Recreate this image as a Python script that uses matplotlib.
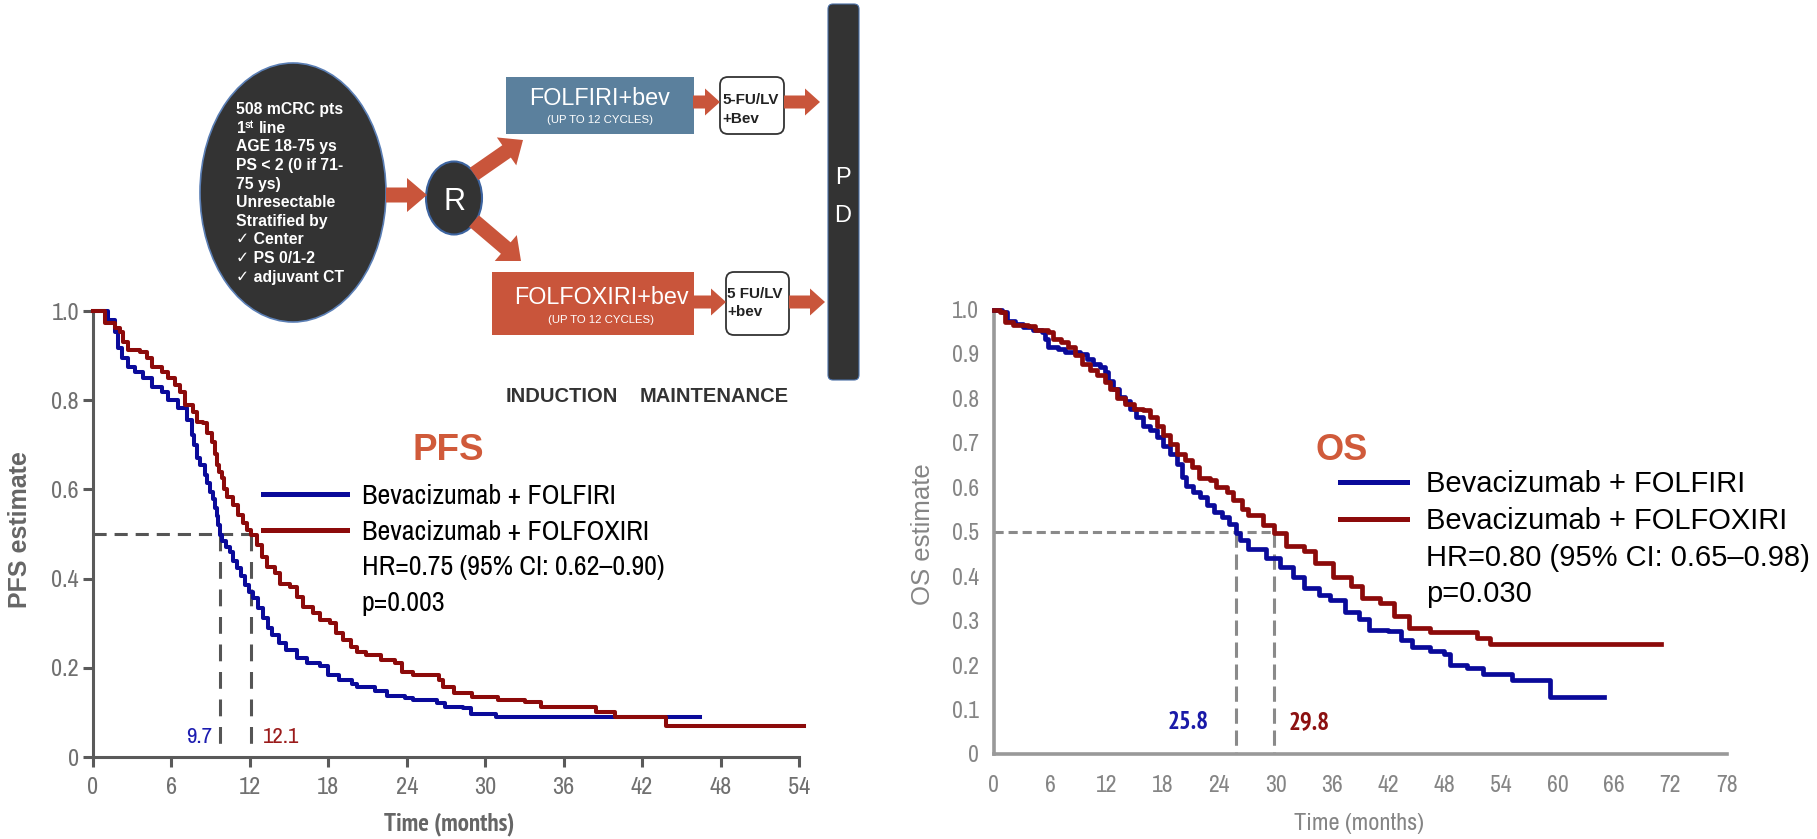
import matplotlib
matplotlib.use('Agg')
import matplotlib.pyplot as plt
from matplotlib.patches import Ellipse, Rectangle, FancyBboxPatch, FancyArrow
from matplotlib.lines import Line2D
from matplotlib.font_manager import FontProperties

NARROW = ['Archivo Narrow', 'Liberation Sans', 'DejaVu Sans']
NARROW_B = ['PT Sans Narrow', 'Barlow Semi Condensed', 'Liberation Sans', 'DejaVu Sans']
REG = ['Liberation Sans', 'DejaVu Sans']
plt.rcParams['font.family'] = REG

BLUE = '#0a0a9a'
RED = '#8c0a0a'
ORANGE = '#c9553b'

# ---- data ----
series_names = ['Bevacizumab + FOLFIRI', 'Bevacizumab + FOLFOXIRI']

# PFS, FOLFIRI arm
pfs_t1 = [0, 1.17, 1.68, 1.94, 2.19, 2.70, 3.21, 3.85, 4.49, 5.25,
          5.76, 6.53, 7.17, 7.55, 7.75, 7.93, 8.2, 8.57, 8.75, 8.95,
          9.15, 9.33, 9.45, 9.59, 9.7, 9.9, 10.2, 10.48, 10.7, 10.99,
          11.3, 11.63, 11.95, 12.27, 12.6, 13.03, 13.35, 13.7, 14.2, 14.76,
          15.57, 16.4, 17.39, 18.0, 18.8, 19.8, 20.2, 21.6, 22.5, 23.9,
          24.5, 26.3, 26.9, 28.3, 28.9, 30.8, 46.4]
pfs_s1 = [1.0, 0.98, 0.954, 0.916, 0.894, 0.875, 0.864, 0.849, 0.830, 0.818,
          0.80, 0.782, 0.756, 0.722, 0.70, 0.670, 0.655, 0.632, 0.615, 0.595,
          0.578, 0.558, 0.54, 0.52, 0.497, 0.485, 0.47, 0.46, 0.44, 0.423,
          0.405, 0.386, 0.37, 0.356, 0.335, 0.311, 0.29, 0.274, 0.255, 0.239,
          0.223, 0.211, 0.203, 0.183, 0.172, 0.164, 0.156, 0.148, 0.136, 0.132,
          0.128, 0.121, 0.113, 0.109, 0.097, 0.089, 0.089]

# PFS, FOLFOXIRI arm
pfs_t2 = [0, 0.92, 1.68, 2.07, 2.32, 2.70, 3.60, 4.11, 4.49, 5.26,
          5.76, 6.27, 6.66, 7.04, 7.68, 7.93, 8.44, 8.70, 9.08, 9.3,
          9.46, 9.65, 9.85, 10.05, 10.23, 10.74, 11.12, 11.5, 11.8, 12.1,
          12.52, 12.9, 13.3, 13.9, 14.3, 15.07, 15.6, 16.1, 16.86, 17.4,
          18.1, 18.6, 19.15, 19.7, 20.2, 20.9, 22.0, 23.1, 23.6, 24.5,
          26.5, 26.8, 27.6, 29.0, 31.0, 33.05, 34.3, 38.5, 39.9, 43.8, 54.4]
pfs_s2 = [1.0, 0.972, 0.961, 0.954, 0.931, 0.913, 0.909, 0.894, 0.875, 0.864,
          0.849, 0.834, 0.819, 0.789, 0.774, 0.752, 0.748, 0.726, 0.707, 0.68,
          0.655, 0.64, 0.625, 0.60, 0.584, 0.565, 0.543, 0.524, 0.51, 0.497,
          0.475, 0.449, 0.427, 0.412, 0.389, 0.382, 0.359, 0.337, 0.322, 0.307,
          0.30, 0.277, 0.262, 0.247, 0.236, 0.229, 0.217, 0.210, 0.191, 0.184,
          0.173, 0.158, 0.143, 0.134, 0.128, 0.123, 0.113, 0.102, 0.089, 0.070, 0.070]

# OS, FOLFIRI arm
os_t1 = [0, 0.86, 1.4, 2.3, 3.16, 4.2, 5.1, 5.5, 5.8, 6.9,
         7.6, 9.2, 9.9, 10.6, 11.3, 11.85, 12.2, 12.7, 13.3, 14.0,
         14.5, 15.2, 15.9, 16.6, 17.35, 18.05, 18.8, 19.5, 20.0, 20.5,
         21.2, 21.96, 22.7, 23.4, 24.3, 25.0, 25.8, 26.2, 27.1, 29.0,
         30.5, 31.8, 33.0, 34.6, 35.8, 37.4, 38.9, 39.9, 42.0, 43.3,
         44.5, 46.4, 47.9, 48.5, 50.4, 52.1, 55.1, 59.2, 64.9]
os_s1 = [1.0, 0.994, 0.975, 0.968, 0.960, 0.954, 0.949, 0.934, 0.915, 0.912,
         0.904, 0.90, 0.889, 0.878, 0.870, 0.859, 0.840, 0.822, 0.803, 0.795,
         0.777, 0.758, 0.739, 0.728, 0.713, 0.694, 0.676, 0.653, 0.623, 0.604,
         0.589, 0.578, 0.560, 0.544, 0.533, 0.518, 0.497, 0.481, 0.461, 0.441,
         0.421, 0.398, 0.374, 0.358, 0.346, 0.319, 0.303, 0.280, 0.276, 0.256,
         0.240, 0.232, 0.224, 0.200, 0.193, 0.181, 0.166, 0.128, 0.128]

# OS, FOLFOXIRI arm
os_t2 = [0, 0.68, 1.2, 2.1, 3.7, 4.4, 5.8, 6.35, 7.2, 7.95,
         8.7, 9.4, 10.3, 11.0, 11.85, 12.4, 13.1, 14.0, 14.9, 15.9,
         16.6, 17.35, 18.05, 18.8, 19.5, 20.4, 21.1, 21.8, 23.0, 23.7,
         24.8, 25.5, 26.4, 27.1, 28.7, 29.8, 31.1, 33.0, 34.2, 36.1,
         38.0, 39.2, 41.1, 42.6, 44.2, 46.4, 51.4, 52.8, 71.0]
os_s2 = [1.0, 0.994, 0.971, 0.966, 0.962, 0.953, 0.949, 0.934, 0.927, 0.915,
         0.897, 0.878, 0.863, 0.852, 0.837, 0.822, 0.800, 0.788, 0.777, 0.773,
         0.758, 0.739, 0.717, 0.698, 0.676, 0.661, 0.646, 0.620, 0.616, 0.601,
         0.589, 0.571, 0.552, 0.537, 0.516, 0.497, 0.469, 0.457, 0.429, 0.398,
         0.378, 0.350, 0.339, 0.311, 0.283, 0.275, 0.260, 0.247, 0.247]

pfs_medians = [9.7, 12.1]
os_medians = [25.8, 29.8]
pfs_stats = ['HR=0.75 (95% CI: 0.62\u20130.90)', 'p=0.003']
os_stats = ['HR=0.80 (95% CI: 0.65\u20130.98)', 'p=0.030']

pfs_xticks = [0, 6, 12, 18, 24, 30, 36, 42, 48, 54]
pfs_yticks = [0, 0.2, 0.4, 0.6, 0.8, 1.0]
pfs_ylabels = ['0', '0.2', '0.4', '0.6', '0.8', '1.0']
os_xticks = [0, 6, 12, 18, 24, 30, 36, 42, 48, 54, 60, 66, 72, 78]
os_yticks = [0, 0.1, 0.2, 0.3, 0.4, 0.5, 0.6, 0.7, 0.8, 0.9, 1.0]
os_ylabels = ['0', '0.1', '0.2', '0.3', '0.4', '0.5', '0.6', '0.7', '0.8', '0.9', '1.0']

ellipse_lines = ['508 mCRC pts', None, 'AGE 18-75 ys', 'PS < 2 (0 if 71-', '75 ys)',
                 'Unresectable', 'Stratified by', '\u2713 Center', '\u2713 PS 0/1-2',
                 '\u2713 adjuvant CT']

W, H = 1817, 839
fig = plt.figure(figsize=(W / 100, H / 100), dpi=100)
fig.patch.set_facecolor('white')


def px_rect(l, t, r, b):
    return [l / W, 1 - b / H, (r - l) / W, (b - t) / H]


def median_lines(ax, meds, color, hdash, vdash, lw, bottom):
    ax.plot([0, max(meds)], [0.5, 0.5], color=color, lw=lw, ls=(0, hdash), zorder=2)
    for m in meds:
        ax.plot([m, m], [0.5, bottom], color=color, lw=lw, ls=(0, vdash), zorder=2)


# ---------------- PFS panel ----------------
ax = fig.add_axes(px_rect(93, 311, 799, 757))
ax.step(pfs_t1, pfs_s1, where='post', color=BLUE, lw=2.9, clip_on=False, zorder=3)
ax.step(pfs_t2, pfs_s2, where='post', color=RED, lw=2.9, clip_on=False, zorder=3)
median_lines(ax, pfs_medians, '#555555', (4.3, 2.6), (5.5, 3.5), 2.2, 0.022)
ax.set_xlim(0, 54)
ax.set_ylim(0, 1)
for s in ['top', 'right']:
    ax.spines[s].set_visible(False)
for s in ['left', 'bottom']:
    ax.spines[s].set_color('#5a5a5a')
    ax.spines[s].set_linewidth(2.2)
ax.set_xticks(pfs_xticks)
ax.set_yticks(pfs_yticks)
ax.set_yticklabels(pfs_ylabels)
ax.tick_params(axis='both', length=7.5, width=2.2, color='#5a5a5a', labelcolor='#707070',
               labelsize=17.5)
ax.tick_params(axis='x', pad=7)
ax.tick_params(axis='y', pad=2.5)
for lab in ax.get_xticklabels() + ax.get_yticklabels():
    lab.set_fontfamily(NARROW)
ax.set_ylabel('PFS estimate', fontsize=18, fontweight='bold', color='#666666', va='center')
ax.yaxis.set_label_coords(-0.1034, 0.509)
ax.set_xlabel('Time (months)', fontsize=18, fontweight='bold', color='#666666',
              va='center', family=NARROW_B)
ax.xaxis.set_label_coords(0.504, -0.150)
ax.text(27.2, 0.666, 'PFS', color='#d05a3a', fontsize=26.5, fontweight='bold',
        ha='center', va='baseline')
ax.text(pfs_medians[0] - 0.6, 0.044, f'{pfs_medians[0]}', color='#1c1cb0', fontsize=16.5,
        family=NARROW, ha='right', va='center')
ax.text(pfs_medians[1] + 0.9, 0.044, f'{pfs_medians[1]}', color='#9a1a1a', fontsize=16.5,
        family=NARROW, ha='left', va='center')
handles = [Line2D([], [], color=BLUE, lw=3.6), Line2D([], [], color=RED, lw=3.6),
           Line2D([], [], alpha=0), Line2D([], [], alpha=0)]
ax.legend(handles, series_names + pfs_stats, loc='upper left',
          bbox_to_anchor=(263 / W, 1 - 484 / H), bbox_transform=fig.transFigure,
          frameon=False, prop=FontProperties(family=NARROW, size=20.2),
          handlelength=3.0, handletextpad=0.52, labelspacing=0.38,
          borderpad=0, borderaxespad=0)

# ---------------- OS panel ----------------
ax2 = fig.add_axes(px_rect(993.6, 309.5, 1726.8, 754))
ax2.step(os_t1, os_s1, where='post', color=BLUE, lw=3.4, clip_on=False, zorder=3)
ax2.step(os_t2, os_s2, where='post', color=RED, lw=3.4, clip_on=False, zorder=3)
median_lines(ax2, os_medians, '#8a8a8a', (3.0, 1.6), (5.0, 2.2), 2.2, 0.0)
ax2.set_xlim(0, 78)
ax2.set_ylim(0, 1)
for s in ['top', 'right']:
    ax2.spines[s].set_visible(False)
for s in ['left', 'bottom']:
    ax2.spines[s].set_color('#999999')
    ax2.spines[s].set_linewidth(2.6)
ax2.set_xticks(os_xticks)
ax2.set_yticks(os_yticks)
ax2.set_yticklabels(os_ylabels)
ax2.tick_params(axis='both', length=0, labelcolor='#858585', labelsize=17)
ax2.tick_params(axis='x', pad=15)
ax2.tick_params(axis='y', pad=10.5)
for lab in ax2.get_xticklabels() + ax2.get_yticklabels():
    lab.set_fontfamily(NARROW)
ax2.set_ylabel('OS estimate', fontsize=18.5, color='#858585', va='center')
ax2.yaxis.set_label_coords(-0.0963, 0.495)
ax2.set_xlabel('Time (months)', fontsize=17.5, color='#858585', va='center', family=NARROW)
ax2.xaxis.set_label_coords(0.498, -0.157)
ax2.text(37.0, 0.661, 'OS', color='#d05a3a', fontsize=26, fontweight='bold',
         ha='center', va='baseline')
ax2.text(os_medians[0] - 2.9, 0.071, f'{os_medians[0]}', color='#1a1aa8', fontsize=18,
         fontweight='bold', family=NARROW_B, ha='right', va='center')
ax2.text(os_medians[1] + 1.6, 0.071, f'{os_medians[1]}', color='#8c1010', fontsize=18,
         fontweight='bold', family=NARROW_B, ha='left', va='center')
ax2.legend(handles, series_names + os_stats, loc='upper left',
           bbox_to_anchor=(1340 / W, 1 - 470 / H), bbox_transform=fig.transFigure,
           frameon=False, prop=FontProperties(family=REG, size=21),
           handlelength=2.3, handletextpad=0.64, labelspacing=0.3,
           borderpad=0, borderaxespad=0)

# ---------------- study schema (pixel coordinates) ----------------
ov = fig.add_axes([0, 0, 1, 1])
ov.set_xlim(0, W)
ov.set_ylim(H, 0)
ov.axis('off')
ov.patch.set_alpha(0)

ov.add_patch(Ellipse((293, 192.5), 186, 259, fc='#333333', ec='#5b7fb5', lw=1.2))
ov.add_patch(Ellipse((454, 198), 56, 73, fc='#333333', ec='#3d64a0', lw=1.5))
ov.add_patch(Rectangle((506, 77), 188, 57, fc='#5b809d', ec='none'))
ov.add_patch(Rectangle((492, 272), 202, 63, fc=ORANGE, ec='none'))
ov.add_patch(FancyBboxPatch((720, 77), 64, 57, boxstyle='round,pad=0,rounding_size=8',
                            fc='white', ec='#333333', lw=1.3))
ov.add_patch(FancyBboxPatch((726, 272), 63, 63, boxstyle='round,pad=0,rounding_size=8',
                            fc='white', ec='#333333', lw=1.3))
ov.add_patch(FancyBboxPatch((828, 4), 31, 376, boxstyle='round,pad=0,rounding_size=5',
                            fc='#333333', ec='#4a6fa5', lw=0.8))

big_arrows = [(386, 195, 427, 195), (474, 174, 523, 140), (474, 221, 521, 261)]
small_arrows = [(693, 102, 720, 102), (784, 102, 820, 102),
                (694, 302, 726, 302), (789, 302, 825, 302)]
for x0, y0, x1, y1 in big_arrows:
    ov.add_patch(FancyArrow(x0, y0, x1 - x0, y1 - y0, width=15, head_width=34,
                            head_length=20, length_includes_head=True, fc=ORANGE, ec='none'))
for x0, y0, x1, y1 in small_arrows:
    ov.add_patch(FancyArrow(x0, y0, x1 - x0, y1 - y0, width=13, head_width=27,
                            head_length=15, length_includes_head=True, fc=ORANGE, ec='none'))

wb = dict(color='white', fontsize=11.3, fontweight='bold', va='baseline', ha='left',
          family=REG)
for i, line in enumerate(ellipse_lines):
    yb = 114 + 18.63 * i
    if line is None:
        ov.text(237, yb, '1', **wb)
        ov.text(244.5, yb - 5, 'st', color='white', fontsize=7.5, fontweight='bold',
                va='baseline', ha='left')
        ov.text(259, yb, 'line', **wb)
    else:
        ov.text(236, yb, line, **wb)

ov.text(454, 210, 'R', color='white', fontsize=22, ha='center', va='baseline')
ov.text(600, 105, 'FOLFIRI+bev', color='white', fontsize=16.8, ha='center', va='baseline')
ov.text(600, 122.7, '(UP TO 12 CYCLES)', color='white', fontsize=8.2, ha='center',
        va='baseline')
ov.text(601, 304, 'FOLFOXIRI+bev', color='white', fontsize=16.8, ha='center', va='baseline')
ov.text(601, 323, '(UP TO 12 CYCLES)', color='white', fontsize=8.2, ha='center',
        va='baseline')
db = dict(color='#222222', fontsize=11, fontweight='bold', va='baseline', ha='left')
ov.text(722.6, 104.3, '5-FU/LV', **db)
ov.text(722.6, 122.7, '+Bev', **db)
ov.text(727, 297.7, '5 FU/LV', **db)
ov.text(727, 316, '+bev', **db)
ov.text(842.7, 184, 'P', color='white', fontsize=17, ha='center', va='baseline')
ov.text(842.7, 221.7, 'D', color='white', fontsize=17, ha='center', va='baseline')
ov.text(561.5, 401.7, 'INDUCTION', color='#333333', fontsize=14.5, fontweight='bold',
        ha='center', va='baseline')
ov.text(714, 401.7, 'MAINTENANCE', color='#333333', fontsize=14.5, fontweight='bold',
        ha='center', va='baseline')

fig.savefig('out.png', dpi=100, facecolor='white')
